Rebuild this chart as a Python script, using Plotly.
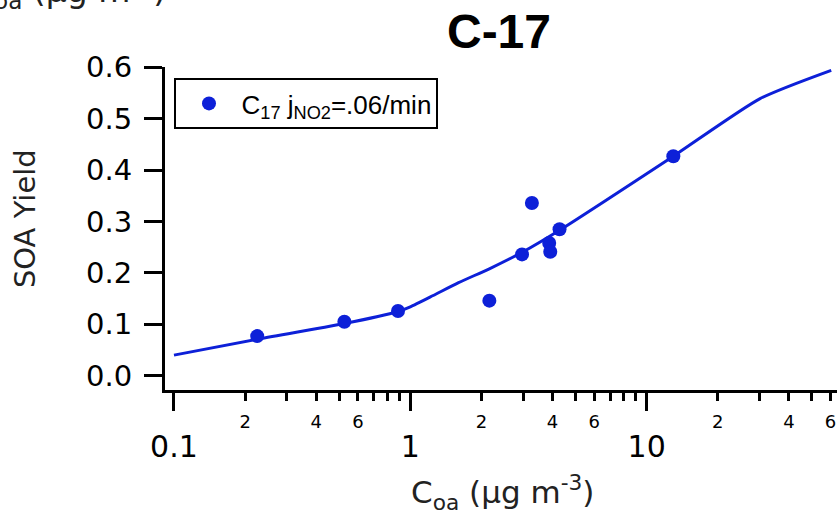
import plotly.graph_objects as go

# ---------------- data ----------------
coa_measured = [0.225, 0.526, 0.887, 2.16, 2.97, 3.27, 3.87, 3.91, 4.28, 12.97]
yield_measured = [0.077, 0.105, 0.126, 0.146, 0.236, 0.336, 0.258, 0.241, 0.285, 0.427]

coa_fit = [0.1, 0.224, 0.52, 0.887, 1.0, 1.25, 1.6, 2.16, 2.97, 4.28, 12.97, 30.2, 60.4]
yield_fit = [0.040, 0.0707, 0.101, 0.125, 0.134, 0.156, 0.181, 0.208, 0.240, 0.283, 0.427, 0.539, 0.594]

series_name = "C<sub>17</sub> j<sub>NO2</sub>=.06/min"
chart_title = "C-17"
x_title = "C<sub>oa</sub> (µg m<sup>-3</sup>)"
y_title = "SOA Yield"

x_major_vals = [0.1, 1, 10]
x_major_text = ["0.1", "1", "10"]
x_minor_vals = [0.2, 0.3, 0.4, 0.5, 0.6, 0.7, 0.8, 0.9,
                2, 3, 4, 5, 6, 7, 8, 9,
                20, 30, 40, 50, 60]
x_minor_label_vals = [0.2, 0.4, 0.6, 2, 4, 6, 20, 40, 60]
x_minor_label_text = ["2", "4", "6", "2", "4", "6", "2", "4", "6"]
y_tick_vals = [0.0, 0.1, 0.2, 0.3, 0.4, 0.5, 0.6]
y_tick_text = ["0.0", "0.1", "0.2", "0.3", "0.4", "0.5", "0.6"]

# ---------------- layout geometry (pixels) ----------------
W, H = 837, 514
L, R, T, B = 164.5, 837, 67, 390
PW, PH = R - L, B - T
X_RANGE = [-1.038, 1.8055]
Y_RANGE = [-0.0278, 0.6005]

def px_x(x):
    return (x - L) / PW

def px_y(y):
    return (B - y) / PH

BLUE = "#0d20d8"
FONT = "DejaVu Sans"

fig = go.Figure()
fig.add_trace(go.Scatter(
    x=coa_fit, y=yield_fit, mode="lines", line_shape="spline",
    line=dict(color=BLUE, width=3, smoothing=0.6), showlegend=False, hoverinfo="skip"))
fig.add_trace(go.Scatter(
    x=coa_measured, y=yield_measured, mode="markers", name=series_name,
    marker=dict(color=BLUE, size=14, line=dict(width=0))))
# invisible trace to carry the minor-label axis
fig.add_trace(go.Scatter(x=[], y=[], xaxis="x2", showlegend=False))

fig.update_layout(
    width=W, height=H,
    margin=dict(l=L, r=W - R, t=T, b=H - B, autoexpand=False),
    paper_bgcolor="white", plot_bgcolor="white",
    font=dict(family=FONT, color="black"),
    title=dict(text="<b>" + chart_title + "</b>", x=499 / W, y=1 - 31 / H,
               xanchor="center", yanchor="middle",
               font=dict(family="Liberation Sans", size=48, color="black")),
    xaxis=dict(
        type="log", range=X_RANGE, automargin=False,
        showgrid=False, zeroline=False,
        showline=True, linecolor="black", linewidth=3,
        tickmode="array", tickvals=x_major_vals, ticktext=x_major_text,
        ticks="outside", ticklen=18, tickwidth=3, tickcolor="black",
        tickfont=dict(family=FONT, size=30, color="black"),
        ticklabelstandoff=10,
        minor=dict(tickmode="array", tickvals=x_minor_vals, ticks="outside",
                   ticklen=8, tickwidth=3, tickcolor="black", showgrid=False),
    ),
    xaxis2=dict(
        type="log", range=X_RANGE, overlaying="x", anchor="y", side="bottom",
        automargin=False, showgrid=False, zeroline=False, showline=False,
        tickmode="array", tickvals=x_minor_label_vals, ticktext=x_minor_label_text,
        ticks="", tickfont=dict(family=FONT, size=18, color="black"),
        ticklabelstandoff=19,
    ),
    yaxis=dict(
        range=Y_RANGE, automargin=False,
        showgrid=False, zeroline=False,
        showline=True, linecolor="black", linewidth=3,
        tickmode="array", tickvals=y_tick_vals, ticktext=y_tick_text,
        ticks="outside", ticklen=18, tickwidth=3, tickcolor="black",
        tickfont=dict(family=FONT, size=29, color="black"),
        ticklabelstandoff=6,
    ),
    legend=dict(
        x=px_x(174), y=px_y(78), xanchor="left", yanchor="top",
        bgcolor="white", bordercolor="black", borderwidth=2,
        font=dict(family="Liberation Sans", size=26, color="black"),
        itemwidth=55,
    ),
    annotations=[
        dict(text=y_title, textangle=-90, xref="paper", yref="paper",
             x=px_x(24), y=px_y(218.5), xanchor="center", yanchor="middle",
             showarrow=False, font=dict(family=FONT, size=29, color="#222222")),
        dict(text=x_title, xref="paper", yref="paper",
             x=px_x(502), y=px_y(492), xanchor="center", yanchor="middle",
             showarrow=False, font=dict(family=FONT, size=31, color="#222222")),
        dict(text=x_title, xref="paper", yref="paper",
             x=px_x(68), y=px_y(-9), xanchor="center", yanchor="middle",
             showarrow=False, font=dict(family=FONT, size=33, color="#222222")),
    ],
)

fig.write_html("out.html")
